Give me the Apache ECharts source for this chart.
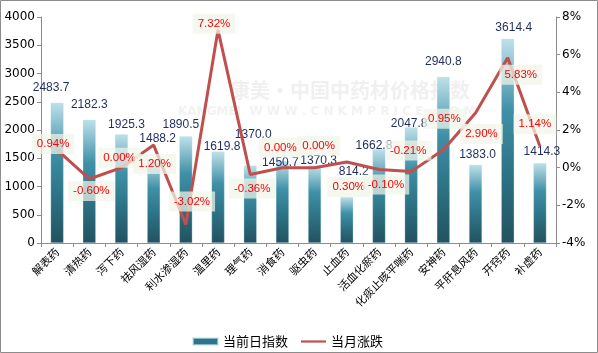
<!DOCTYPE html>
<html>
<head>
<meta charset="utf-8">
<script src="https://cdn.jsdelivr.net/npm/echarts@6/dist/echarts.min.js"></script>
<style>
  html, body { margin: 0; padding: 0; background: #fff; }
  #chart { width: 598px; height: 353px; }
</style>
</head>
<body>
<div id="chart"></div>
<script>
const categories = ['解表药', '清热药', '泻下药', '祛风湿药', '利水渗湿药', '温里药', '理气药', '消食药',
  '驱虫药', '止血药', '活血化瘀药', '化痰止咳平喘药', '安神药', '平肝息风药', '开窍药', '补虚药'];
const indexValues = [2483.7, 2182.3, 1925.3, 1488.2, 1890.5, 1619.8, 1370.0, 1450.7,
  1370.3, 814.2, 1662.8, 2047.8, 2940.8, 1383.0, 3614.4, 1414.3];
const monthChange = [0.94, -0.60, 0.00, 1.20, -3.02, 7.32, -0.36, 0.00,
  0.00, 0.30, -0.10, -0.21, 0.95, 2.90, 5.83, 1.14];

// labels were hand placed in the original, these nudge them the same way
const barLabelOffsets = [[-6, -9], [0, -9], [5, -4], [4, -14], [-5, -5], [4, 1], [3, -25], [-2, 8],
  [4, 1], [7, -19], [-5, 3], [-2, 2], [0, -9], [2, -4], [6, -5], [2, -5]];
const lineLabelOffsets = [[-4, -6], [2, 12], [-2, -10], [1, 19], [6, -23], [-4, -6], [2, 14], [-2, -20],
  [4, -22], [2, 25], [7, 15], [-3, -21], [1, -31], [6, 21], [13, 17], [-5, -22]];

let myChart = echarts.init(document.getElementById('chart'));
var option;

const barColor = new echarts.graphic.LinearGradient(0, 0, 0, 1, [
  { offset: 0, color: '#bfe1ea' },
  { offset: 0.35, color: '#3f90a7' },
  { offset: 0.65, color: '#2d7487' },
  { offset: 1, color: '#22525f' }
]);

option = {
  animation: false,
  textStyle: { fontFamily: 'DejaVu Sans' },
  graphic: [{
    type: 'rect',
    shape: { x: 0.5, y: 0.5, width: 597, height: 352 },
    style: { fill: 'none', stroke: '#8c8c8c', lineWidth: 1 },
    z: -10
  }, {
    type: 'text',
    left: 230, top: 80,
    style: { text: '康美·中国中药材价格指数', fill: '#f0f0f0', font: 'bold 20px "Noto Sans CJK SC"' },
    z: -5
  }, {
    type: 'text',
    left: 178, top: 106,
    style: { text: 'KANGMEI  W W W . C N K M P R I C E . C O M', fill: '#f2f2f2', font: 'bold 12px "DejaVu Sans"' },
    z: -5
  }],
  legend: {
    top: 330,
    left: 187,
    itemWidth: 25,
    itemHeight: 7,
    itemGap: 13,
    textStyle: { color: '#000', fontSize: 13, fontFamily: 'Noto Sans CJK SC' },
    data: [
      { name: '当前日指数', icon: 'rect', itemStyle: { color: '#2d7487' } },
      { name: '当月涨跌', icon: 'path://M0,0 L0,0 M0,2.4 L25,2.4 L25,4.6 L0,4.6 Z M25,7 L25,7', itemStyle: { color: '#c0504d' } }
    ]
  },
  grid: { left: 41, right: 42, top: 17, bottom: 110 },
  xAxis: {
    type: 'category',
    data: categories,
    axisLine: { lineStyle: { color: '#8c8c8c' } },
    axisTick: { show: true, alignWithLabel: false, length: 4, lineStyle: { color: '#8c8c8c' } },
    axisLabel: {
      rotate: 45,
      interval: 0,
      color: '#000',
      fontSize: 11,
      fontFamily: 'Noto Sans CJK SC',
      margin: 7
    }
  },
  yAxis: [{
    type: 'value',
    min: 0,
    max: 4000,
    interval: 500,
    splitLine: { show: false },
    axisLine: { show: true, lineStyle: { color: '#8c8c8c' } },
    axisTick: { show: true, length: 4, lineStyle: { color: '#8c8c8c' } },
    axisLabel: { color: '#000', fontSize: 12, margin: 6, formatter: v => String(v) }
  }, {
    type: 'value',
    min: -4,
    max: 8,
    interval: 2,
    splitLine: { show: false },
    axisLine: { show: true, lineStyle: { color: '#8c8c8c' } },
    axisTick: { show: true, length: 4, lineStyle: { color: '#8c8c8c' } },
    axisLabel: { color: '#000', fontSize: 12, margin: 6, formatter: '{value}%' }
  }],
  series: [{
    name: '当前日指数',
    type: 'bar',
    data: indexValues.map((v, i) => ({
      value: v,
      label: { offset: barLabelOffsets[i] }
    })),
    barWidth: 13,
    itemStyle: { color: barColor, borderColor: 'rgba(200,230,238,0.6)', borderWidth: 0.5 },
    label: {
      show: true,
      position: 'top',
      distance: 0,
      color: '#1f2d5e',
      fontSize: 12,
      fontFamily: 'Liberation Sans',
      formatter: p => p.value.toFixed(1)
    },
    z: 2
  }, {
    name: '当月涨跌',
    type: 'line',
    yAxisIndex: 1,
    showSymbol: true,
    symbol: 'circle',
    symbolSize: 0.1,
    data: monthChange.map((v, i) => ({
      value: v,
      label: { offset: lineLabelOffsets[i] }
    })),
    lineStyle: { color: '#c0504d', width: 3 },
    itemStyle: { color: '#c0504d' },
    label: {
      show: true,
      position: 'inside',
      color: '#ff0000',
      fontSize: 11.5,
      fontFamily: 'Liberation Sans',
      backgroundColor: 'rgba(241,245,233,0.72)',
      padding: [4, 5],
      formatter: p => p.value.toFixed(2) + '%'
    },
    z: 5
  }]
};

myChart.setOption(option);
window.addEventListener('resize', function () {
  myChart.resize();
});
</script>
</body>
</html>
